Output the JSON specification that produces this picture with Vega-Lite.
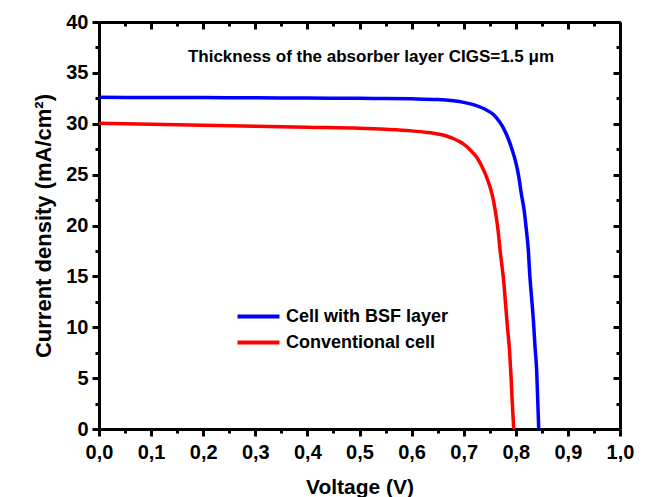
{
  "$schema": "https://vega.github.io/schema/vega-lite/v6.json",
  "width": 521,
  "height": 407,
  "autosize": {"type": "none"},
  "padding": {"left": 99, "top": 22, "right": 26, "bottom": 68},
  "background": "white",
  "config": {
    "view": {"stroke": null},
    "font": "Liberation Sans",
    "axis": {
      "domainColor": "black",
      "domainWidth": 3,
      "tickColor": "black",
      "tickWidth": 3,
      "grid": false,
      "labelFont": "Liberation Sans",
      "labelFontWeight": "bold",
      "labelFontSize": 20,
      "labelColor": "black",
      "titleFont": "Liberation Sans",
      "titleFontWeight": "bold",
      "titleColor": "black"
    }
  },
  "datasets": {
    "curves": [
      {"V": 0.0, "J": 32.6, "cell": "Cell with BSF layer"},
      {"V": 0.1, "J": 32.58, "cell": "Cell with BSF layer"},
      {"V": 0.2, "J": 32.57, "cell": "Cell with BSF layer"},
      {"V": 0.3, "J": 32.55, "cell": "Cell with BSF layer"},
      {"V": 0.4, "J": 32.53, "cell": "Cell with BSF layer"},
      {"V": 0.5, "J": 32.5, "cell": "Cell with BSF layer"},
      {"V": 0.55, "J": 32.48, "cell": "Cell with BSF layer"},
      {"V": 0.6, "J": 32.45, "cell": "Cell with BSF layer"},
      {"V": 0.65, "J": 32.38, "cell": "Cell with BSF layer"},
      {"V": 0.68, "J": 32.25, "cell": "Cell with BSF layer"},
      {"V": 0.7, "J": 32.1, "cell": "Cell with BSF layer"},
      {"V": 0.72, "J": 31.85, "cell": "Cell with BSF layer"},
      {"V": 0.74, "J": 31.45, "cell": "Cell with BSF layer"},
      {"V": 0.757, "J": 30.9, "cell": "Cell with BSF layer"},
      {"V": 0.77, "J": 30.1, "cell": "Cell with BSF layer"},
      {"V": 0.776, "J": 29.6, "cell": "Cell with BSF layer"},
      {"V": 0.785, "J": 28.6, "cell": "Cell with BSF layer"},
      {"V": 0.792, "J": 27.6, "cell": "Cell with BSF layer"},
      {"V": 0.8, "J": 26.2, "cell": "Cell with BSF layer"},
      {"V": 0.805, "J": 25.0, "cell": "Cell with BSF layer"},
      {"V": 0.811, "J": 23.0, "cell": "Cell with BSF layer"},
      {"V": 0.816, "J": 21.5, "cell": "Cell with BSF layer"},
      {"V": 0.82, "J": 19.7, "cell": "Cell with BSF layer"},
      {"V": 0.824, "J": 17.6, "cell": "Cell with BSF layer"},
      {"V": 0.827, "J": 15.0, "cell": "Cell with BSF layer"},
      {"V": 0.831, "J": 12.5, "cell": "Cell with BSF layer"},
      {"V": 0.834, "J": 10.5, "cell": "Cell with BSF layer"},
      {"V": 0.837, "J": 8.0, "cell": "Cell with BSF layer"},
      {"V": 0.84, "J": 5.8, "cell": "Cell with BSF layer"},
      {"V": 0.842, "J": 3.0, "cell": "Cell with BSF layer"},
      {"V": 0.844, "J": 0.0, "cell": "Cell with BSF layer"},
      {"V": 0.0, "J": 30.05, "cell": "Conventional cell"},
      {"V": 0.1, "J": 29.95, "cell": "Conventional cell"},
      {"V": 0.2, "J": 29.85, "cell": "Conventional cell"},
      {"V": 0.3, "J": 29.75, "cell": "Conventional cell"},
      {"V": 0.4, "J": 29.65, "cell": "Conventional cell"},
      {"V": 0.5, "J": 29.55, "cell": "Conventional cell"},
      {"V": 0.55, "J": 29.45, "cell": "Conventional cell"},
      {"V": 0.6, "J": 29.3, "cell": "Conventional cell"},
      {"V": 0.63, "J": 29.15, "cell": "Conventional cell"},
      {"V": 0.65, "J": 29.0, "cell": "Conventional cell"},
      {"V": 0.667, "J": 28.8, "cell": "Conventional cell"},
      {"V": 0.68, "J": 28.55, "cell": "Conventional cell"},
      {"V": 0.69, "J": 28.3, "cell": "Conventional cell"},
      {"V": 0.7, "J": 28.0, "cell": "Conventional cell"},
      {"V": 0.715, "J": 27.3, "cell": "Conventional cell"},
      {"V": 0.725, "J": 26.7, "cell": "Conventional cell"},
      {"V": 0.735, "J": 25.8, "cell": "Conventional cell"},
      {"V": 0.744, "J": 24.75, "cell": "Conventional cell"},
      {"V": 0.751, "J": 23.7, "cell": "Conventional cell"},
      {"V": 0.757, "J": 22.5, "cell": "Conventional cell"},
      {"V": 0.762, "J": 21.0, "cell": "Conventional cell"},
      {"V": 0.766, "J": 19.5, "cell": "Conventional cell"},
      {"V": 0.77, "J": 17.5, "cell": "Conventional cell"},
      {"V": 0.774, "J": 15.8, "cell": "Conventional cell"},
      {"V": 0.777, "J": 14.4, "cell": "Conventional cell"},
      {"V": 0.78, "J": 12.5, "cell": "Conventional cell"},
      {"V": 0.784, "J": 10.0, "cell": "Conventional cell"},
      {"V": 0.788, "J": 7.7, "cell": "Conventional cell"},
      {"V": 0.791, "J": 5.0, "cell": "Conventional cell"},
      {"V": 0.793, "J": 2.8, "cell": "Conventional cell"},
      {"V": 0.796, "J": 0.0, "cell": "Conventional cell"}
    ],
    "note": [
      {"V": 0.522, "J": 36.6, "label": "Thickness of the absorber layer CIGS=1.5 μm"}
    ]
  },
  "layer": [
    {
      "data": {"name": "curves"},
      "mark": {"type": "line", "strokeWidth": 3.5, "interpolate": "monotone"},
      "encoding": {
        "x": {
          "field": "V", "type": "quantitative",
          "scale": {"domain": [0, 1], "nice": false, "zero": false},
          "axis": {
            "orient": "bottom",
            "title": "Voltage (V)",
            "titleFontSize": 21,
            "titlePadding": 14,
            "values": [0, 0.1, 0.2, 0.3, 0.4, 0.5, 0.6, 0.7, 0.8, 0.9, 1.0],
            "labelExpr": "replace(format(datum.value, '.1f'), '.', ',')",
            "tickSize": 7,
            "labelPadding": 6,
            "labelFlush": false,
            "labelOverlap": false
          }
        },
        "y": {
          "field": "J", "type": "quantitative",
          "scale": {"domain": [0, 40], "nice": false, "zero": false},
          "axis": {
            "orient": "left",
            "title": "Current density (mA/cm²)",
            "titleFontSize": 22,
            "titlePadding": 10,
            "values": [0, 5, 10, 15, 20, 25, 30, 35, 40],
            "tickSize": 7,
            "labelPadding": 4,
            "labelFlush": false,
            "labelOverlap": false
          }
        },
        "color": {
          "field": "cell", "type": "nominal",
          "scale": {"domain": ["Cell with BSF layer", "Conventional cell"], "range": ["#0000FF", "#FF0000"]},
          "legend": {
            "title": null,
            "orient": "none",
            "legendX": 147,
            "legendY": 282,
            "symbolType": "M-2,0H2",
            "symbolSize": 441,
            "symbolStrokeWidth": 4,
            "labelFont": "Liberation Sans",
            "labelFontWeight": "bold",
            "labelFontSize": 18,
            "labelColor": "black",
            "labelLimit": 0,
            "labelOffset": 15,
            "rowPadding": 4,
            "padding": 0
          }
        }
      }
    },
    {
      "data": {"name": "note"},
      "mark": {"type": "text", "font": "Liberation Sans", "fontWeight": "bold", "fontSize": 17, "align": "center", "baseline": "middle", "color": "black"},
      "encoding": {
        "x": {
          "field": "V", "type": "quantitative",
          "scale": {"domain": [0, 1], "nice": false, "zero": false},
          "axis": {
            "orient": "bottom", "offset": -407, "title": null, "labels": false,
            "values": [0, 0.1, 0.2, 0.3, 0.4, 0.5, 0.6, 0.7, 0.8, 0.9, 1.0],
            "tickSize": 7
          }
        },
        "y": {
          "field": "J", "type": "quantitative",
          "scale": {"domain": [0, 40], "nice": false, "zero": false},
          "axis": {
            "orient": "left", "offset": -521, "title": null, "labels": false,
            "values": [0, 5, 10, 15, 20, 25, 30, 35, 40],
            "tickSize": 7
          }
        },
        "text": {"field": "label"}
      }
    },
    {
      "data": {"name": "note"},
      "mark": {"type": "point", "opacity": 0},
      "encoding": {
        "x": {
          "field": "V", "type": "quantitative",
          "scale": {"domain": [0, 1], "nice": false, "zero": false},
          "axis": {
            "orient": "bottom", "title": null, "labels": false, "domain": false,
            "values": [0.05, 0.15, 0.25, 0.35, 0.45, 0.55, 0.65, 0.75, 0.85, 0.95],
            "tickSize": 4
          }
        },
        "y": {
          "field": "J", "type": "quantitative",
          "scale": {"domain": [0, 40], "nice": false, "zero": false},
          "axis": {
            "orient": "left", "title": null, "labels": false, "domain": false,
            "values": [2.5, 7.5, 12.5, 17.5, 22.5, 27.5, 32.5, 37.5],
            "tickSize": 4
          }
        }
      }
    },
    {
      "data": {"name": "note"},
      "mark": {"type": "point", "opacity": 0},
      "encoding": {
        "x": {
          "field": "V", "type": "quantitative",
          "scale": {"domain": [0, 1], "nice": false, "zero": false},
          "axis": {
            "orient": "bottom", "offset": -407, "title": null, "labels": false, "domain": false,
            "values": [0.05, 0.15, 0.25, 0.35, 0.45, 0.55, 0.65, 0.75, 0.85, 0.95],
            "tickSize": 4
          }
        },
        "y": {
          "field": "J", "type": "quantitative",
          "scale": {"domain": [0, 40], "nice": false, "zero": false},
          "axis": {
            "orient": "left", "offset": -521, "title": null, "labels": false, "domain": false,
            "values": [2.5, 7.5, 12.5, 17.5, 22.5, 27.5, 32.5, 37.5],
            "tickSize": 4
          }
        }
      }
    }
  ],
  "resolve": {"axis": {"x": "independent", "y": "independent"}}
}
